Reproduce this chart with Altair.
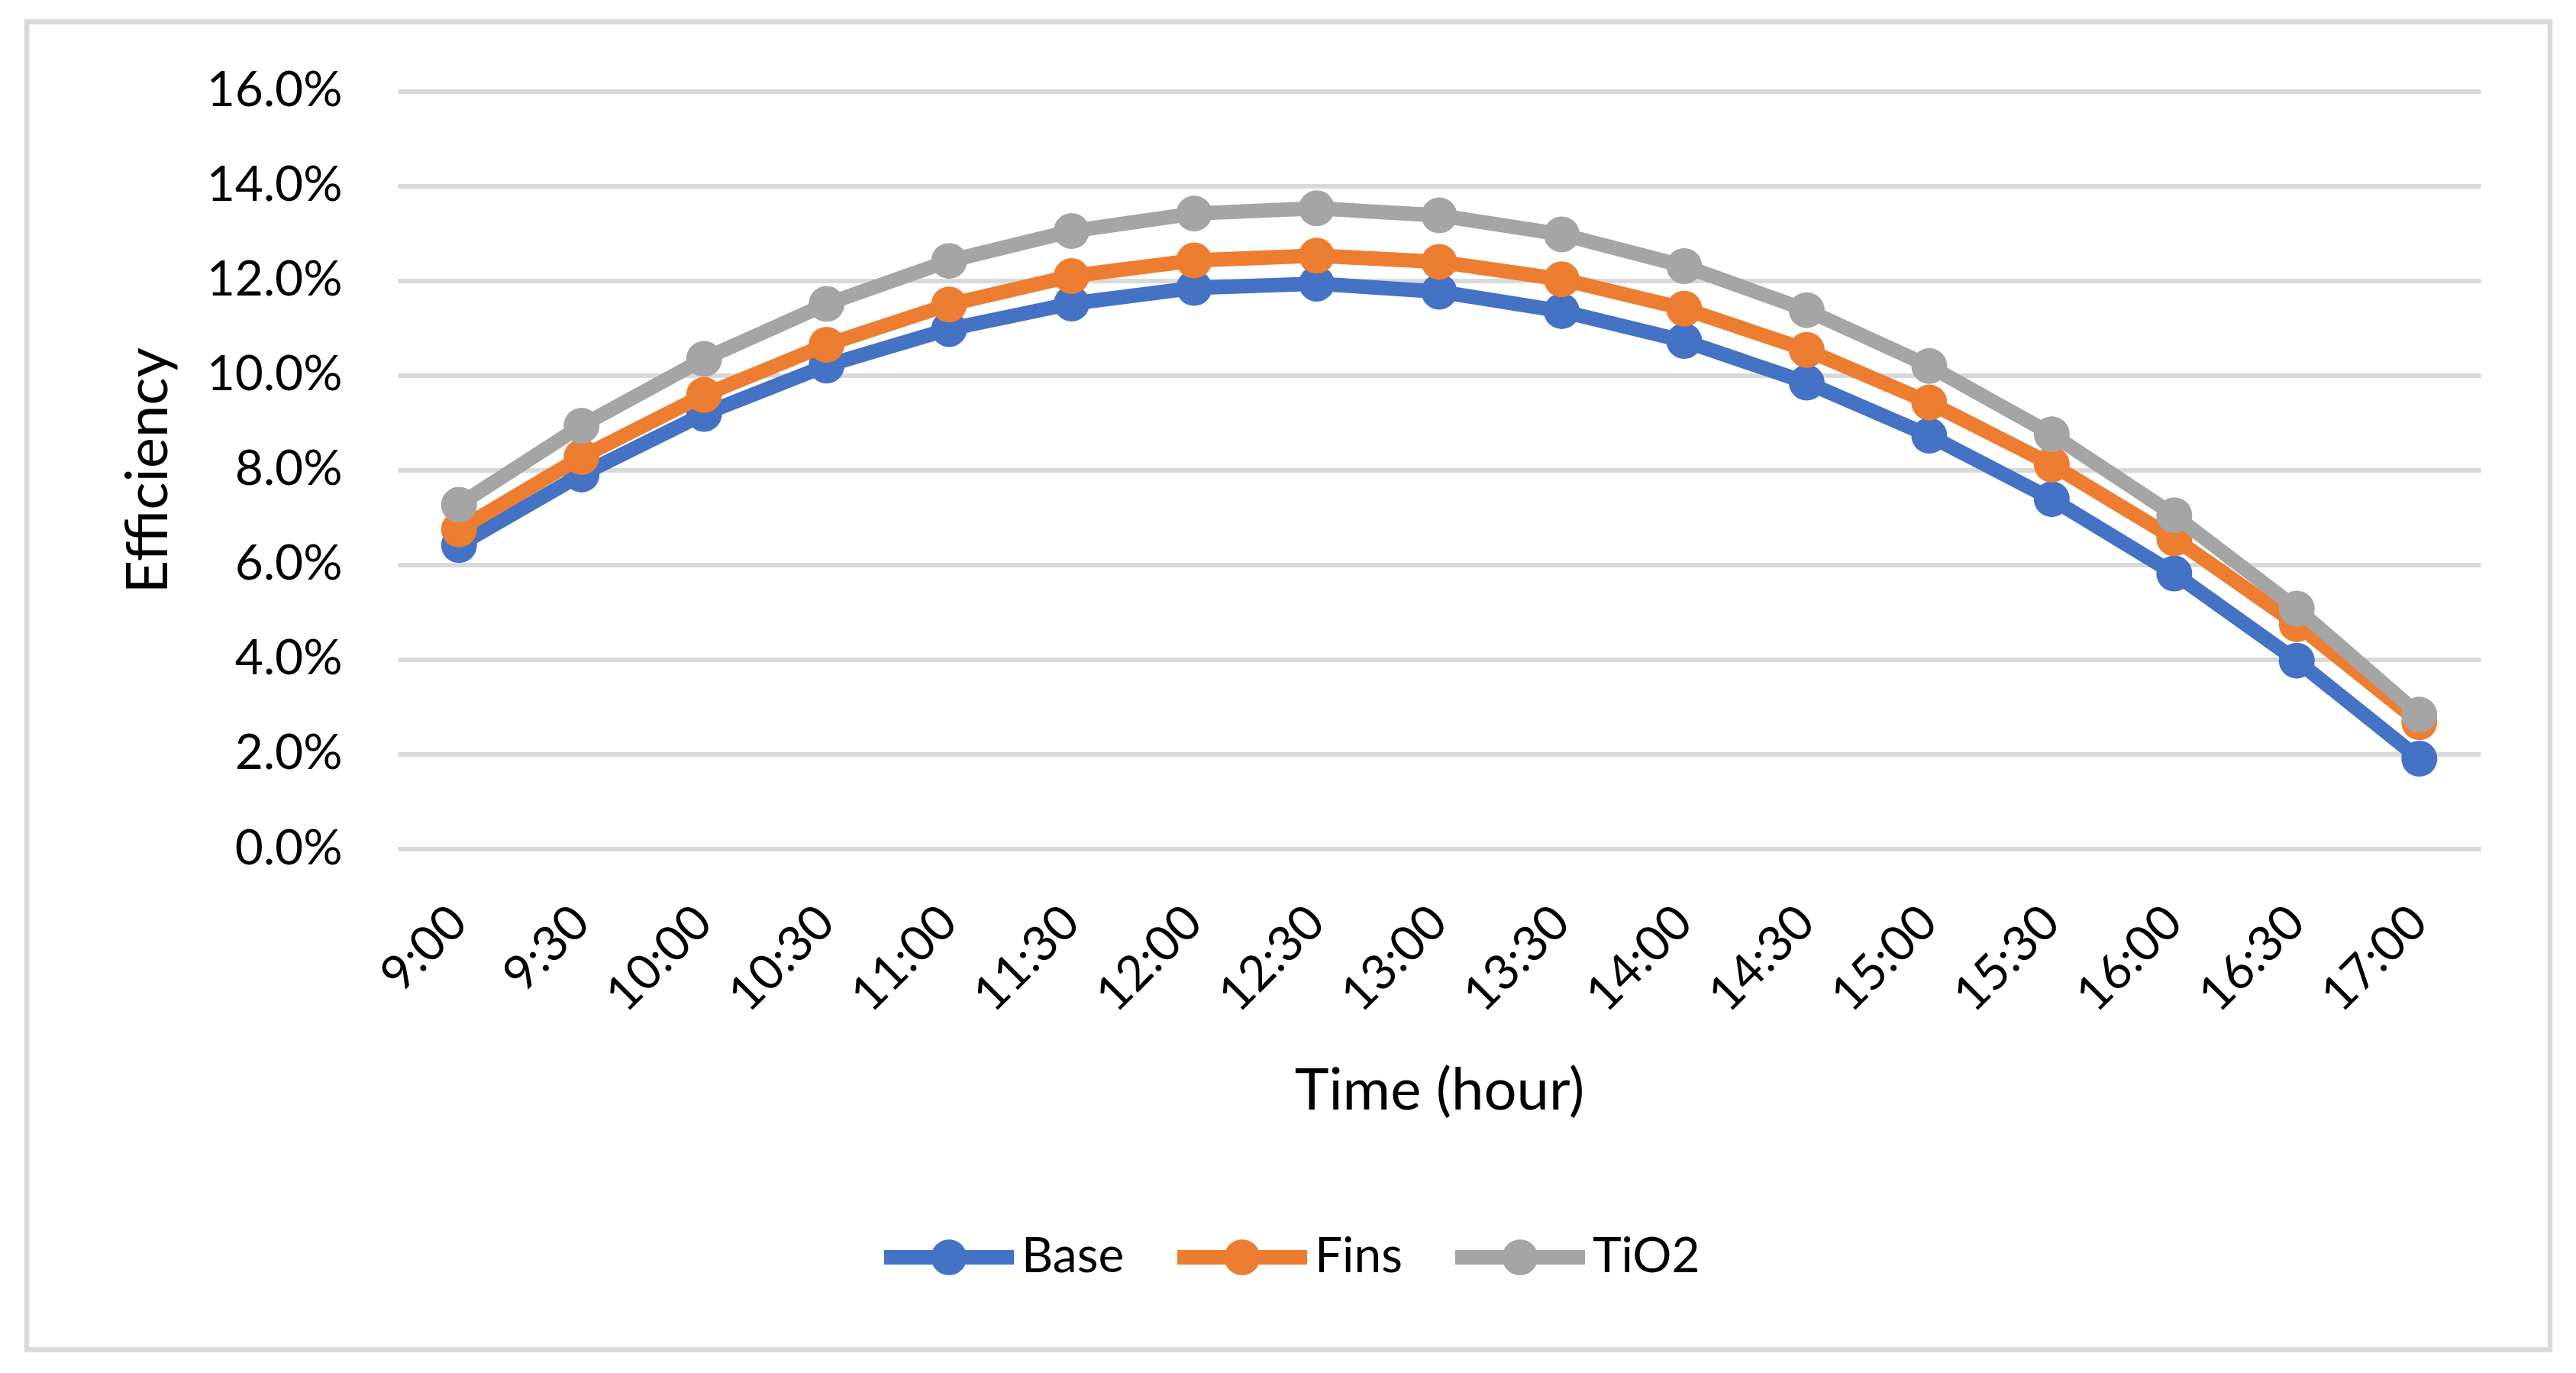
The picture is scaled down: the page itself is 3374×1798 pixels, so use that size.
import altair as alt
import pandas as pd

times = ["9:00", "9:30", "10:00", "10:30", "11:00", "11:30", "12:00", "12:30",
         "13:00", "13:30", "14:00", "14:30", "15:00", "15:30", "16:00", "16:30", "17:00"]
series_names = ["Base", "Fins", "TiO2"]
base_vals = [6.42, 7.91, 9.19, 10.21, 10.98, 11.52, 11.85, 11.94, 11.77, 11.36,
             10.73, 9.85, 8.73, 7.39, 5.82, 3.98, 1.91]
fins_vals = [6.75, 8.28, 9.59, 10.65, 11.50, 12.10, 12.43, 12.53, 12.40, 12.03,
             11.41, 10.54, 9.43, 8.12, 6.56, 4.75, 2.68]
tio2_vals = [7.27, 8.94, 10.35, 11.51, 12.42, 13.05, 13.42, 13.53, 13.38, 12.98,
             12.31, 11.38, 10.20, 8.76, 7.05, 5.08, 2.84]
colors = ["#4472C4", "#ED7D31", "#A5A5A5"]
y_ticks = [0.0, 0.02, 0.04, 0.06, 0.08, 0.10, 0.12, 0.14, 0.16]

rows = []
for name, vals in zip(series_names, [base_vals, fins_vals, tio2_vals]):
    for t, v in zip(times, vals):
        rows.append({"time": t, "series": name, "eff": v / 100.0})
df = pd.DataFrame(rows)

FONT = "Lato"
W, H = 2728, 992.4

x_enc = alt.X("time:O", sort=times, scale=alt.Scale(type="point", padding=0.5),
              axis=alt.Axis(title="Time (hour)", labelAngle=-45, labelAlign="right",
                            labelBaseline="middle", labelPadding=86, labelFontSize=64,
                            labelFont=FONT, labelColor="#000000", ticks=False, domain=False,
                            grid=False, labelOverlap=False,
                            titleFont=FONT, titleFontSize=76, titleFontWeight="normal",
                            titleColor="#000000", titleX=W / 2, titleY=340,
                            titleBaseline="alphabetic", titleAlign="center"))
y_enc = alt.Y("eff:Q", scale=alt.Scale(domain=[0, 0.16], nice=False),
              axis=alt.Axis(title="Efficiency", values=y_ticks, format=".1%",
                            labelPadding=73, labelFontSize=64, labelFont=FONT,
                            labelColor="#000000", ticks=False, domain=False,
                            grid=True, gridColor="#D9D9D9", gridWidth=6,
                            titleFont=FONT, titleFontSize=76, titleFontWeight="normal",
                            titleColor="#000000", titleAngle=-90, titleX=-303, titleY=H / 2,
                            titleBaseline="alphabetic", titleAlign="center"))

color_scale = alt.Scale(domain=series_names, range=colors)
legend_path = ("M-1,-0.112L1,-0.112L1,0.112L-1,0.112Z"
               "M-0.276,0A0.276,0.276,0,1,1,0.276,0A0.276,0.276,0,1,1,-0.276,0Z")
legend = alt.Legend(title=None, orient="none", legendX=637, legendY=1442,
                    direction="horizontal", symbolType=legend_path, symbolSize=28900,
                    symbolStrokeWidth=0, labelFont=FONT, labelFontSize=64,
                    labelColor="#000000", labelOffset=10, columnPadding=69, padding=0)

frame = alt.Chart(alt.Data(values=[{}])).mark_rect(
    fill="transparent", stroke="#D9D9D9", strokeWidth=6.5
).encode(x=alt.value(-486), x2=alt.value(2819), y=alt.value(-91), y2=alt.value(1648))

layers = [frame]
for name, col in zip(series_names, colors):
    b = alt.Chart(df).transform_filter(alt.datum.series == name)
    line = b.mark_line(strokeWidth=19, strokeJoin="round", strokeCap="round").encode(
        x=x_enc, y=y_enc, stroke=alt.value(col))
    pts = b.mark_circle(size=2209, opacity=1).encode(
        x=x_enc, y=y_enc,
        fill=alt.Fill("series:N", scale=color_scale, legend=legend))
    layers += [line, pts]

chart = alt.layer(*layers).properties(
    width=W, height=H,
    autosize=alt.AutoSizeParams(type="none"),
    padding={"left": 513, "top": 111.6, "right": 117, "bottom": 678},
    background="white",
).configure_view(stroke=None)

chart.save("out.html", embed_options={"renderer": "svg", "actions": False})
